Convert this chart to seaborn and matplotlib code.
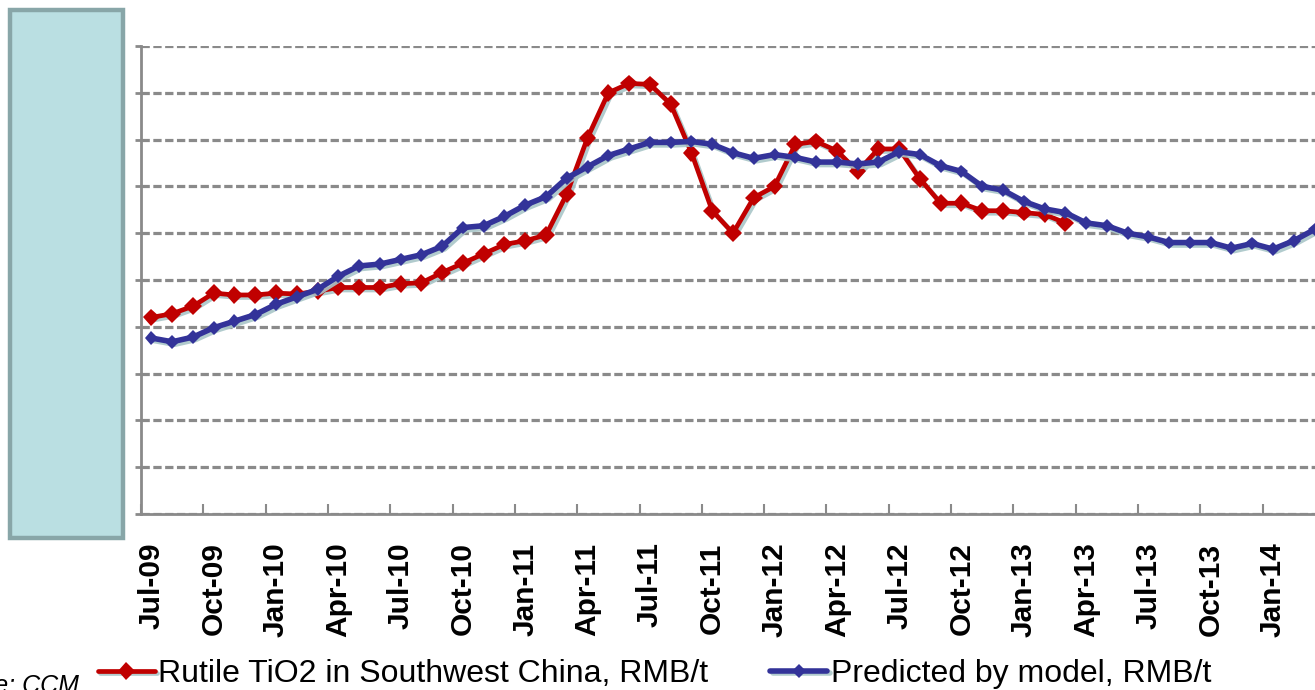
import numpy as np
import pandas as pd
import matplotlib
matplotlib.use("Agg")
import matplotlib.pyplot as plt
import matplotlib.patheffects as pe
from matplotlib.patches import Rectangle
import seaborn as sns

# ---- data -------------------------------------------------------------
months = list(pd.date_range("2009-07-01", periods=57, freq="MS").strftime("%b-%y"))

rutile = [10500, 10700, 11100, 11800, 11700, 11700, 11800, 11750, 11900, 12100,
          12100, 12100, 12300, 12350, 12900, 13400, 13900, 14400, 14600, 14900,
          17100, 20100, 22500, 23000, 22950, 21900, 19300, 16200, 15000, 16900,
          17500, 19750, 19900, 19400, 18300, 19500, 19500, 17900, 16600, 16600,
          16200, 16200, 16100, 16000, 15550]

predicted = [9400, 9200, 9450, 9950, 10300, 10650, 11200, 11600, 12000, 12700,
             13250, 13350, 13600, 13850, 14300, 15300, 15400, 15900, 16500, 16950,
             17950, 18550, 19150, 19500, 19850, 19850, 19900, 19750, 19300, 19000,
             19200, 19050, 18800, 18800, 18700, 18800, 19350, 19200, 18600, 18300,
             17500, 17300, 16700, 16300, 16100, 15550, 15400, 15000, 14800, 14500,
             14500, 14500, 14200, 14450, 14150, 14600, 15200]

label_rutile = "Rutile TiO2 in Southwest China, RMB/t"
label_pred = "Predicted by model, RMB/t"
source_text = "Source: CCM"

y_ticks = list(range(0, 25001, 2500))

# ---- frame ------------------------------------------------------------
df = pd.DataFrame({
    "idx": np.arange(len(months)),
    "month": months,
    "predicted": predicted,
    "rutile": rutile + [np.nan] * (len(months) - len(rutile)),
})

sns.set_theme(style="white")
plt.rcParams["font.family"] = ["Liberation Sans", "DejaVu Sans"]
plt.rcParams["text.color"] = "black"

W, H = 1315, 690
fig = plt.figure(figsize=(W / 100, H / 100), dpi=100)
ax = fig.add_axes([141 / W, 1 - 514 / H, 1 - 141 / W, 468 / H])

shadow = [pe.SimpleLineShadow(offset=(1.8, -1.8), shadow_color="#a9c6c8", alpha=0.9), pe.Normal()]

sns.lineplot(data=df.dropna(subset=["rutile"]), x="idx", y="rutile", ax=ax,
             color="#C00000", linewidth=3.4, marker="D", markersize=9,
             markeredgewidth=0, label=label_rutile, path_effects=shadow, zorder=3)
sns.lineplot(data=df, x="idx", y="predicted", ax=ax,
             color="#333399", linewidth=4.0, marker="D", markersize=7,
             markeredgewidth=0, label=label_pred, path_effects=shadow, zorder=4)

ax.set_xlim(-0.5, 56.02)
ax.set_ylim(y_ticks[0], y_ticks[-1])
ax.set_xlabel("")
ax.set_ylabel("")

# y axis: gridlines, no visible labels
ax.set_yticks(y_ticks)
ax.set_yticklabels([])
ax.yaxis.grid(True, color="#8a8a8a", linestyle=(0, (2.6, 1.1)), linewidth=2.3)
ax.xaxis.grid(False)
ax.tick_params(axis="y", which="major", direction="out", length=4, width=2,
               color="#8a8a8a", left=True)

# x axis: labels every 3 months, tick marks at category boundaries
label_pos = list(range(0, len(months), 3))
ax.set_xticks(label_pos)
ax.set_xticklabels([months[i] for i in label_pos], rotation=90,
                   fontsize=21.5, fontweight="bold", color="black")
ax.set_xticks([p - 0.5 for p in label_pos], minor=True)
ax.tick_params(axis="x", which="major", length=0, pad=20.5)
ax.tick_params(axis="x", which="minor", direction="in", length=7, width=1.5,
               color="#8a8a8a", bottom=True)

for s in ["top", "right"]:
    ax.spines[s].set_visible(False)
for s in ["left", "bottom"]:
    ax.spines[s].set_color("#8a8a8a")
    ax.spines[s].set_linewidth(2)

# legend at the bottom
handles, labels = ax.get_legend_handles_labels()
ax.get_legend().remove()
leg = fig.legend(handles, labels, loc="center left", bbox_to_anchor=(98 / W, 1 - 674 / H),
                 ncol=2, frameon=False, fontsize=23, handlelength=1.78,
                 handletextpad=0.1, columnspacing=1.95, borderpad=0, borderaxespad=0)
for t in leg.get_texts():
    t.set_color("black")

# source note, partly cut off at the left edge (as in the reference)
fig.text(79 / W, 1 - 693 / H, source_text, ha="right", va="baseline",
         fontsize=18, style="italic", color="black")

# light-blue panel covering the value axis labels
fig.add_artist(Rectangle((10 / W, 1 - 538 / H), 113 / W, 528 / H,
                         transform=fig.transFigure, facecolor="#BADFE2",
                         edgecolor="#88A6A8", linewidth=3.2, zorder=10))

fig.savefig("out.png", dpi=100)
